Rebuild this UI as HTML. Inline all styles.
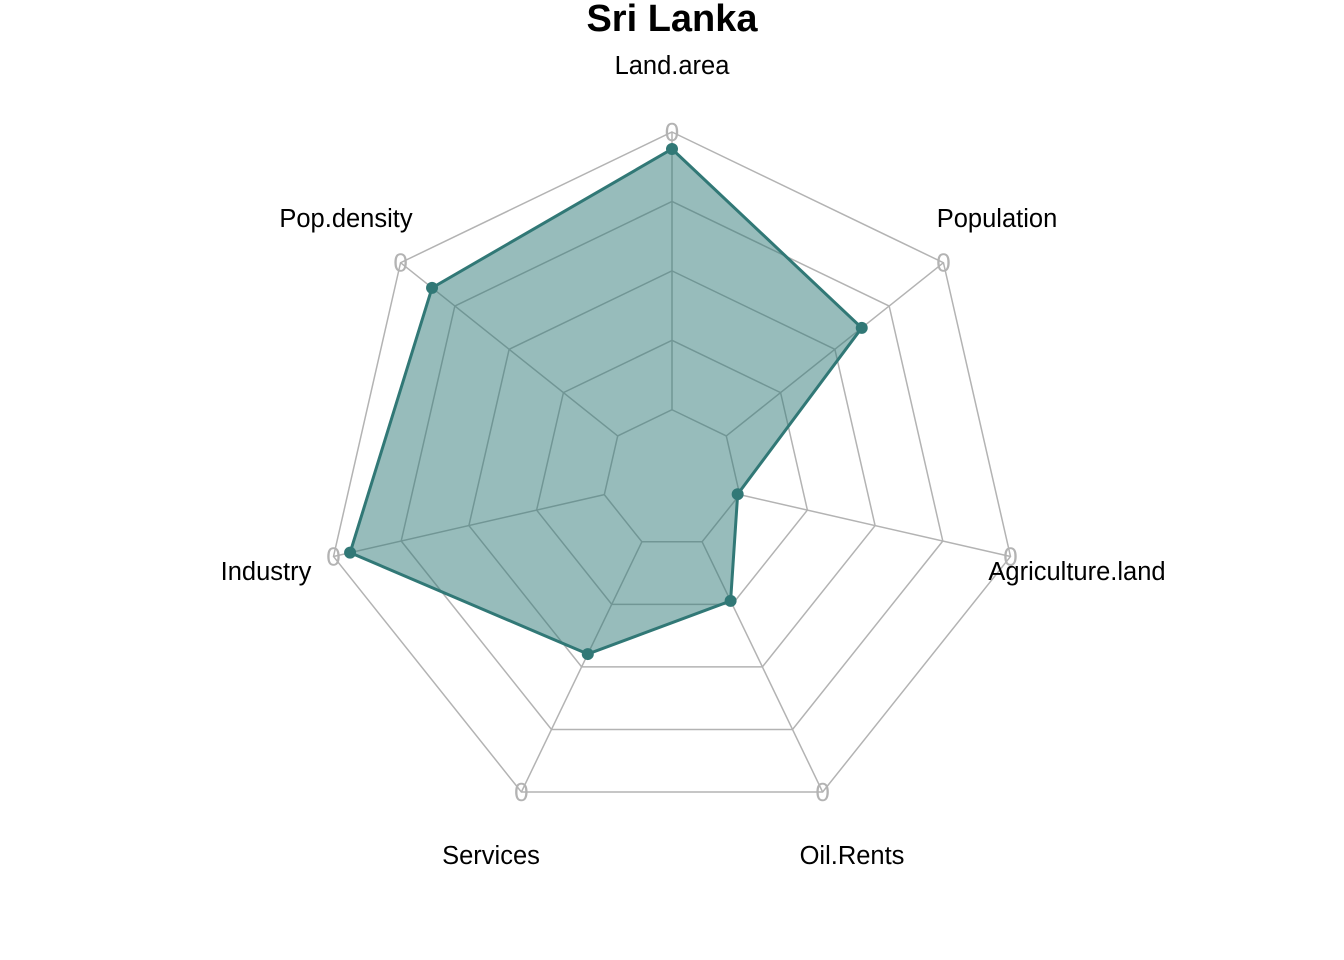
<!DOCTYPE html>
<html><head><meta charset="utf-8"><style>
html,body{margin:0;padding:0;background:#fff}
svg{display:block;font-family:"Liberation Sans",Arial,sans-serif}
</style></head><body>
<svg id="chart" width="1344" height="960">
<text x="672" y="31" text-anchor="middle" font-size="38" font-weight="bold">Sri Lanka</text>
<g id="grid"></g><g id="area"></g><g id="labels"></g>
</svg>
<script>
const categories=["Land.area","Population","Agriculture.land","Oil.Rents","Services","Industry","Pop.density"];
const values=[0.951,0.699,0.194,0.389,0.559,0.951,0.884];
const ringLevels=[0.2,0.4,0.6,0.8,1.0];
const cx=672,cy=479.2,R=347.2,NS="http://www.w3.org/2000/svg";
const n=categories.length;
function pt(i,f){const a=2*Math.PI*i/n;return [cx+R*f*Math.sin(a),cy-R*f*Math.cos(a)];}
function mk(t,attrs,parent){const e=document.createElementNS(NS,t);for(const k in attrs)e.setAttribute(k,attrs[k]);parent.appendChild(e);return e;}
const grid=document.getElementById('grid'),area=document.getElementById('area'),labels=document.getElementById('labels');
ringLevels.forEach((lv,j)=>{
  const p=mk('polygon',{points:categories.map((c,i)=>pt(i,lv).join(',')).join(' '),fill:'none',stroke:'#b3b3b3','stroke-width':1.5},grid);
  
  
});
categories.forEach((c,i)=>{
  const [x,y]=pt(i,1);
  const [x0,y0]=pt(i,ringLevels[0]);
  const l=mk('line',{x1:x0,y1:y0,x2:x,y2:y,stroke:'#b3b3b3','stroke-width':1.5},grid);
  
  
  const z=mk('text',{x:x,y:y+9,'text-anchor':'middle','font-size':26,fill:'#b3b3b3'},grid);
  z.textContent='0';
  
  
});
const poly=mk('polygon',{points:values.map((v,i)=>pt(i,v).join(',')).join(' '),fill:'rgba(47,122,120,0.5)',stroke:'#317876','stroke-width':3},area);


values.forEach((v,i)=>{
  const [x,y]=pt(i,v);
  const c=mk('circle',{cx:x,cy:y,r:6,fill:'#317876'},area);
  
  
});
const labelPos=[[672,74],[997,227],[1077,580],[852,864],[491,864],[266,580],[346,227]];
categories.forEach((c,i)=>{
  const t=mk('text',{x:labelPos[i][0],y:labelPos[i][1],'text-anchor':'middle','font-size':25.5,fill:'#000'},labels);
  t.textContent=c;
  
  
});
</script>
</body></html>
